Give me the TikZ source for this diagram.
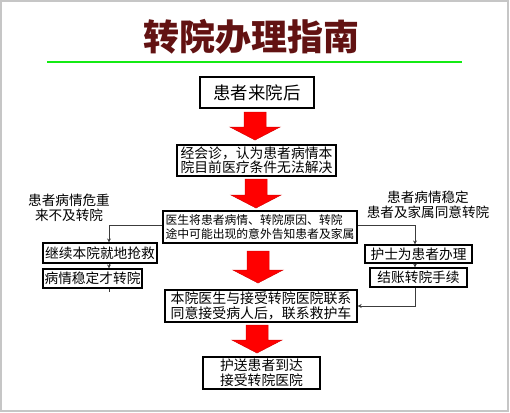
\documentclass[tikz,border=0pt]{standalone}
\usepackage{fontspec}
\setmainfont{Noto Sans CJK SC}
\usetikzlibrary{arrows.meta,shadows}
\definecolor{titlered}{RGB}{98,18,18}
\definecolor{linegreen}{RGB}{20,235,20}
\definecolor{conn}{RGB}{60,60,60}
\newcommand\fatarrow[3]{%
  \fill[fatarr] ({#1-11},#2) -- ({#1+11},#2) -- ({#1+11},{#3-13}) -- ({#1+25},{#3-13}) -- (#1,#3) -- ({#1-25},{#3-13}) -- ({#1-11},{#3-13}) -- cycle;}
\tikzset{
  fatarr/.style={fill=red, draw=red!85!black, line width=0.5pt},
  box/.style={draw=black, line width=1.4pt, fill=white, inner sep=0pt, align=center,
    drop shadow={shadow xshift=1.2pt, shadow yshift=-1.2pt, opacity=0.45, fill=gray}},
  lbl/.style={inner sep=0pt, align=center, font=\fontsize{13.6}{14.5}\selectfont},
  conline/.style={draw=conn, line width=0.9pt},
  conarrow/.style={conline, -{Stealth[length=4pt,width=4pt]}},
}
\begin{document}
\begin{tikzpicture}[x=1pt, y=-1pt]
\useasboundingbox (0,0) rectangle (510,412);
\draw[gray!45, line width=1.5pt] (1,1) rectangle (508,411);
% title
\node (title) [text=titlered, font=\fontsize{36}{38}\selectfont\bfseries] at (251,37) {转院办理指南};
\coordinate (gl) at (47,62);
\coordinate (gr) at (462,62);
\draw[linegreen, line width=2pt] (gl) -- (gr);
% main boxes
\node (b1) [box, minimum width=114pt, minimum height=31pt, font=\fontsize{17.4}{18}\selectfont] at (257,92.5) {患者来院后};
\node (b2) [box, minimum width=159pt, minimum height=31pt, font=\fontsize{13.8}{14}\selectfont] at (256.5,160.5) {经会诊，认为患者病情本\\院目前医疗条件无法解决};
\node (b3) [box, minimum width=194pt, minimum height=32pt, align=left, font=\fontsize{11.8}{13.5}\selectfont] at (260,227) {医生将患者病情、转院原因、转院\\途中可能出现的意外告知患者及家属};
\node (b4) [box, minimum width=192pt, minimum height=32pt, font=\fontsize{13.9}{14.5}\selectfont] at (261,306) {本院医生与接受转院医院联系\\同意接受病人后，联系救护车};
\node (b5) [box, minimum width=117pt, minimum height=32pt, font=\fontsize{13.8}{14.5}\selectfont] at (261.5,373) {护送患者到达\\接受转院医院};
% side labels
\node (ll) [lbl] at (69,208) {患者病情危重\\来不及转院};
\node (rl) [lbl] at (428,205) {患者病情稳定\\患者及家属同意转院};
% side boxes
\node (l1) [box, line width=1.1pt, minimum width=114pt, minimum height=20pt, font=\fontsize{13.7}{14}\selectfont] at (100,253) {继续本院就地抢救};
\node (l2) [box, line width=1.1pt, minimum width=99pt, minimum height=19pt, font=\fontsize{13.7}{14}\selectfont] at (92.5,278.5) {病情稳定才转院};
\node (r1) [box, line width=1.1pt, minimum width=107pt, minimum height=18pt, font=\fontsize{13.7}{14}\selectfont] at (418.5,254) {护士为患者办理};
\node (r2) [box, line width=1.1pt, minimum width=97pt, minimum height=19pt, font=\fontsize{13.7}{14}\selectfont] at (418.5,277.5) {结账转院手续};
% fat arrows
\fatarrow{255}{112}{140}
\fatarrow{256}{179}{208}
\fatarrow{258}{251}{283}
\fatarrow{257}{325}{353}
% thin connectors
\coordinate (lk) at (109,225);
\draw[conarrow] (b3.west |- lk) -- (lk) -- (lk |- l1.north);
\draw[conarrow] (lk |- l1.south) -- (lk |- l2.north);
\coordinate (lend) at (109,292);
\draw[conline] (lk |- l2.south) -- (lend);
\coordinate (rk) at (415,225);
\draw[conarrow] (b3.east |- rk) -- (rk) -- (rk |- r1.north);
\draw[conarrow] (rk |- r1.south) -- (rk |- r2.north);
\coordinate (rb) at (415,306);
\draw[conarrow] (rk |- r2.south) -- (rb) -- (b4.east |- rb);
\end{tikzpicture}
\end{document}
